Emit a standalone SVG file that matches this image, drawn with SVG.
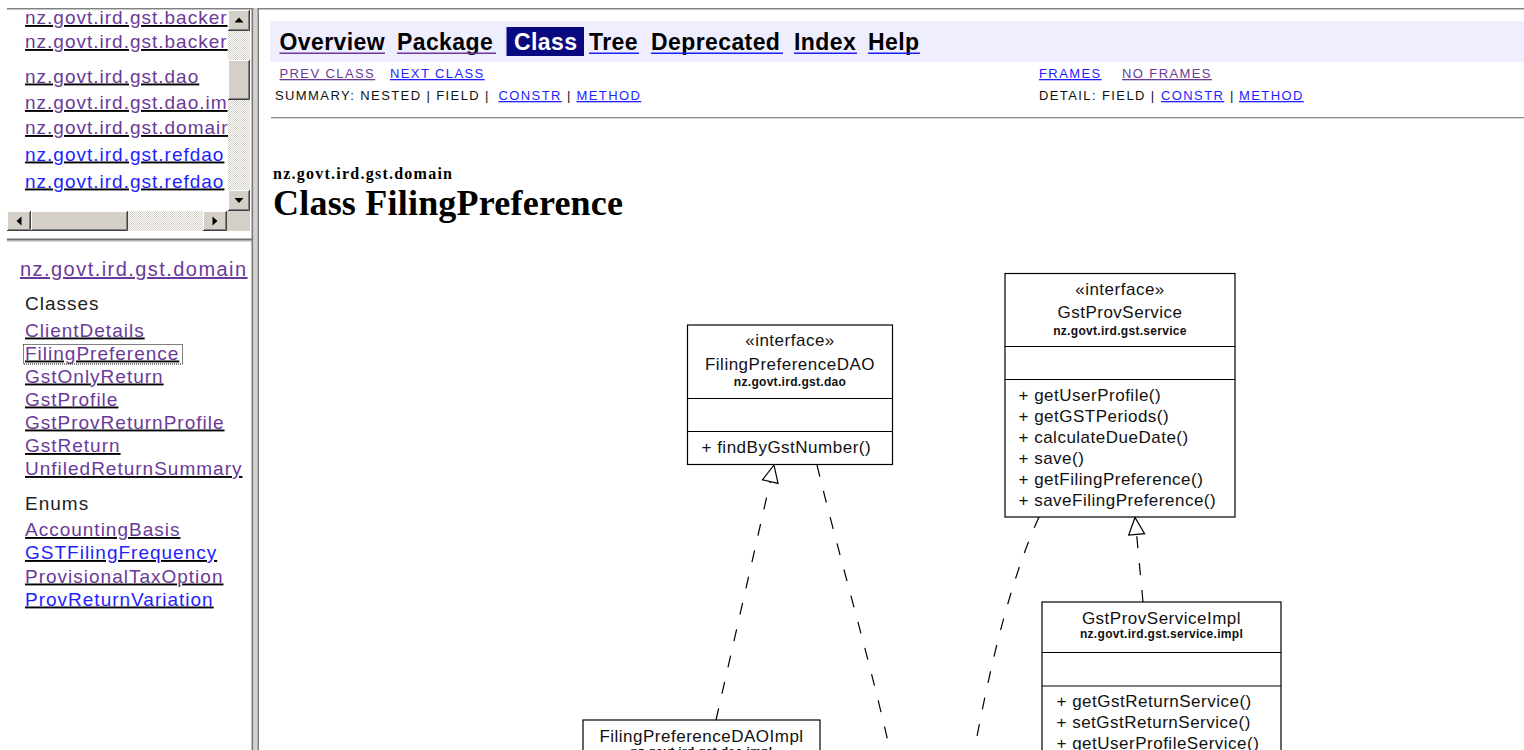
<svg xmlns="http://www.w3.org/2000/svg" width="1524" height="750" viewBox="0 0 1524 750">
<defs>
<style>
.pg{font-family:"Liberation Sans",Arial,Helvetica,sans-serif}
.lk{text-decoration:underline}
.vis{fill:#6b3a99}
.unv{fill:#1e1eff}
.fi{font-size:19px;letter-spacing:1px}
.hd{fill:#222}
.nav{font-size:23px;font-weight:bold;letter-spacing:0.4px;fill:#000}
.sm{font-size:13px;letter-spacing:1.4px}
.blk{fill:#111}
.uml{font-family:"Liberation Sans",Arial,sans-serif;font-size:17px;letter-spacing:0.5px;fill:#111}
.pkg{font-size:12px;font-weight:bold;letter-spacing:0.3px}
.box{fill:#fff;stroke:#000;stroke-width:1.2}
.sep{stroke:#000;stroke-width:1.2}
.dash{fill:none;stroke:#000;stroke-width:1.2;stroke-dasharray:12 15}
.face{fill:#d4d0c8}
.hi{fill:none;stroke:#fff;stroke-width:1}
.lo{fill:none;stroke:#404040;stroke-width:1}
.mid{fill:none;stroke:#808080;stroke-width:1}
.arr{fill:#000}
.serif{font-family:"Liberation Serif","Times New Roman",serif;font-weight:bold;fill:#000}
</style>
<pattern id="dither" width="2" height="2" patternUnits="userSpaceOnUse">
<rect width="2" height="2" fill="#fff"/>
<rect width="1" height="1" fill="#d4d0c8"/>
<rect x="1" y="1" width="1" height="1" fill="#d4d0c8"/>
</pattern>
<clipPath id="pkgClip"><rect x="0" y="10" width="228" height="200"/></clipPath>
<marker id="realize" markerUnits="userSpaceOnUse" markerWidth="19" markerHeight="18" viewBox="-1 -1 19 18" refX="17" refY="8" orient="auto" overflow="visible">
<path d="M0,0 L17,8 L0,16 Z" fill="#fff" stroke="#000" stroke-width="1.2"/>
</marker>
</defs>

<rect width="1524" height="750" fill="#fff"/>

<!-- window top edge -->
<rect x="7" y="8" width="1517" height="1" fill="#808080"/>
<rect x="7" y="9" width="1517" height="1" fill="#c4c4c4"/>

<!-- package list frame -->
<g id="package-list-frame">
  <g clip-path="url(#pkgClip)" class="pg fi lk">
    <text x="25" y="24" class="vis">nz.govt.ird.gst.backer</text>
    <text x="25" y="48" class="vis">nz.govt.ird.gst.backer</text>
    <text x="25" y="82.5" class="vis">nz.govt.ird.gst.dao</text>
    <text x="25" y="109" class="vis">nz.govt.ird.gst.dao.im</text>
    <text x="25" y="134" class="vis">nz.govt.ird.gst.domair</text>
    <text x="25" y="160.5" class="unv">nz.govt.ird.gst.refdao</text>
    <text x="25" y="187.5" class="unv">nz.govt.ird.gst.refdao</text>
  </g>
  <!-- vertical scrollbar -->
  <rect x="228" y="31" width="22" height="159" fill="url(#dither)"/>
  <rect class="face" x="228" y="10" width="22" height="21"/>
  <path class="hi" d="M228.5,30 V10.5 H249"/>
  <path class="lo" d="M228,30.5 H249.5 V10"/>
  <path class="mid" d="M229,29.5 H248.5 V11"/>
  <polygon class="arr" points="239,17.5 234.5,22.5 243.5,22.5"/>
  <rect class="face" x="228" y="60" width="22" height="40"/>
  <path class="hi" d="M228.5,99 V60.5 H249"/>
  <path class="lo" d="M228,99.5 H249.5 V60"/>
  <path class="mid" d="M229,98.5 H248.5 V61"/>
  <rect class="face" x="228" y="190" width="22" height="21"/>
  <path class="hi" d="M228.5,210 V190.5 H249"/>
  <path class="lo" d="M228,210.5 H249.5 V190"/>
  <path class="mid" d="M229,209.5 H248.5 V191"/>
  <polygon class="arr" points="234.5,198 243.5,198 239,203"/>
  <!-- horizontal scrollbar -->
  <rect x="31" y="211" width="172" height="20" fill="url(#dither)"/>
  <rect class="face" x="7" y="211" width="24" height="20"/>
  <path class="hi" d="M7.5,230 V211.5 H30"/>
  <path class="lo" d="M7,230.5 H30.5 V211"/>
  <path class="mid" d="M8,229.5 H29.5 V212"/>
  <polygon class="arr" points="16.5,221 21.5,216.5 21.5,225.5"/>
  <rect class="face" x="31" y="211" width="97" height="20"/>
  <path class="hi" d="M31.5,230 V211.5 H127"/>
  <path class="lo" d="M31,230.5 H127.5 V211"/>
  <path class="mid" d="M32,229.5 H126.5 V212"/>
  <rect class="face" x="203" y="211" width="24" height="20"/>
  <path class="hi" d="M203.5,230 V211.5 H226"/>
  <path class="lo" d="M203,230.5 H226.5 V211"/>
  <path class="mid" d="M204,229.5 H225.5 V212"/>
  <polygon class="arr" points="212.5,216.5 212.5,225.5 217.5,221"/>
  <rect class="face" x="227" y="211" width="23" height="20"/>
  <!-- frame border -->
  <rect x="7" y="238.5" width="245" height="2" fill="#707070"/>
  <rect x="7" y="240.5" width="245" height="1" fill="#b0b0b0"/>
</g>

<!-- class list frame -->
<g id="class-list-frame" class="pg">
  <text x="20" y="276" class="vis lk" style="font-size:20px;letter-spacing:1.45px">nz.govt.ird.gst.domain</text>
  <text x="25" y="309.5" class="fi hd">Classes</text>
  <g class="fi lk">
    <text x="25" y="336.5" class="vis">ClientDetails</text>
    <text x="25" y="359.5" class="vis">FilingPreference</text>
    <text x="25" y="382.5" class="vis">GstOnlyReturn</text>
    <text x="25" y="405.5" class="vis">GstProfile</text>
    <text x="25" y="428.5" class="vis">GstProvReturnProfile</text>
    <text x="25" y="452" class="vis">GstReturn</text>
    <text x="25" y="475" class="vis">UnfiledReturnSummary</text>
  </g>
  <rect x="23.5" y="344.5" width="159" height="19.5" fill="none" stroke="#000" stroke-width="1" stroke-dasharray="1 1"/>
  <text x="25" y="509.5" class="fi hd">Enums</text>
  <g class="fi lk">
    <text x="25" y="536" class="vis">AccountingBasis</text>
    <text x="25" y="559" class="unv">GSTFilingFrequency</text>
    <text x="25" y="582.5" class="vis">ProvisionalTaxOption</text>
    <text x="25" y="605.5" class="unv">ProvReturnVariation</text>
  </g>
</g>

<!-- frame splitter -->
<rect x="251.5" y="8" width="2" height="742" fill="#7a7a7a"/>
<rect x="253.5" y="8" width="4" height="742" fill="#d6d3ce"/>
<rect x="257.5" y="8" width="1.5" height="742" fill="#7a7a7a"/>

<!-- class documentation frame -->
<g id="class-frame" class="pg">
  <rect x="270" y="21" width="1254" height="41" fill="#eeeeff"/>
  <text x="279.5" y="50" class="nav">Overview</text>
  <text x="397" y="50" class="nav">Package</text>
  <rect x="506.5" y="27" width="77.5" height="29" fill="#0a0a80"/>
  <text x="514" y="50" class="nav" style="fill:#fff">Class</text>
  <text x="589" y="50" class="nav">Tree</text>
  <text x="651" y="50" class="nav">Deprecated</text>
  <text x="794" y="50" class="nav">Index</text>
  <text x="868" y="50" class="nav">Help</text>
  <rect x="279.5" y="52.5" width="105.5" height="1.5" fill="#6b3a99"/>
  <rect x="397" y="52.5" width="99" height="1.5" fill="#6b3a99"/>
  <rect x="589" y="52.5" width="50" height="1.5" fill="#1e1eff"/>
  <rect x="651" y="52.5" width="132" height="1.5" fill="#1e1eff"/>
  <rect x="794" y="52.5" width="63" height="1.5" fill="#1e1eff"/>
  <rect x="868" y="52.5" width="52" height="1.5" fill="#1e1eff"/>

  <text x="279.5" y="78" class="sm vis lk">PREV CLASS</text>
  <text x="390" y="78" class="sm unv lk">NEXT CLASS</text>
  <text x="1039" y="78" class="sm unv lk">FRAMES</text>
  <text x="1122" y="78" class="sm vis lk">NO FRAMES</text>

  <text x="275" y="100" class="sm blk">SUMMARY: NESTED | FIELD |</text>
  <text x="498.5" y="100" class="sm unv lk">CONSTR</text>
  <text x="567" y="100" class="sm blk">|</text>
  <text x="576.5" y="100" class="sm unv lk">METHOD</text>
  <text x="1039" y="100" class="sm blk">DETAIL: FIELD |</text>
  <text x="1161" y="100" class="sm unv lk">CONSTR</text>
  <text x="1230" y="100" class="sm blk">|</text>
  <text x="1239" y="100" class="sm unv lk">METHOD</text>

  <rect x="271" y="117" width="1253" height="1" fill="#8a8a8a"/>
  <rect x="271" y="118" width="1253" height="1" fill="#dcdcdc"/>

  <text x="273" y="179" class="serif" style="font-size:16px" textLength="179" lengthAdjust="spacing">nz.govt.ird.gst.domain</text>
  <text x="273" y="215" class="serif" style="font-size:36px" textLength="350" lengthAdjust="spacing">Class FilingPreference</text>
</g>

<!-- UML nodes -->
<g id="node-FilingPreferenceDAO">
  <rect class="box" x="687.5" y="325" width="205" height="139.5"/>
  <line class="sep" x1="687.5" y1="398.5" x2="892.5" y2="398.5"/>
  <line class="sep" x1="687.5" y1="431.5" x2="892.5" y2="431.5"/>
  <text class="uml" x="790" y="346" text-anchor="middle">«interface»</text>
  <text class="uml" x="790" y="369.5" text-anchor="middle">FilingPreferenceDAO</text>
  <text class="uml pkg" x="790" y="386" text-anchor="middle">nz.govt.ird.gst.dao</text>
  <text class="uml" x="701.5" y="452.5">+ findByGstNumber()</text>
</g>

<g id="node-GstProvService">
  <rect class="box" x="1005" y="273.5" width="230" height="243.5"/>
  <line class="sep" x1="1005" y1="346.5" x2="1235" y2="346.5"/>
  <line class="sep" x1="1005" y1="379.5" x2="1235" y2="379.5"/>
  <text class="uml" x="1120" y="294.5" text-anchor="middle">«interface»</text>
  <text class="uml" x="1120" y="318" text-anchor="middle">GstProvService</text>
  <text class="uml pkg" x="1120" y="334.5" text-anchor="middle">nz.govt.ird.gst.service</text>
  <text class="uml" x="1018.5" y="400.5">+ getUserProfile()</text>
  <text class="uml" x="1018.5" y="421.5">+ getGSTPeriods()</text>
  <text class="uml" x="1018.5" y="442.5">+ calculateDueDate()</text>
  <text class="uml" x="1018.5" y="463.5">+ save()</text>
  <text class="uml" x="1018.5" y="484.5">+ getFilingPreference()</text>
  <text class="uml" x="1018.5" y="505.5">+ saveFilingPreference()</text>
</g>

<g id="node-GstProvServiceImpl">
  <rect class="box" x="1042" y="602" width="239" height="170"/>
  <line class="sep" x1="1042" y1="652.5" x2="1281" y2="652.5"/>
  <line class="sep" x1="1042" y1="686" x2="1281" y2="686"/>
  <text class="uml" x="1161.5" y="624" text-anchor="middle">GstProvServiceImpl</text>
  <text class="uml pkg" x="1161.5" y="638" text-anchor="middle">nz.govt.ird.gst.service.impl</text>
  <text class="uml" x="1056.5" y="707">+ getGstReturnService()</text>
  <text class="uml" x="1056.5" y="728">+ setGstReturnService()</text>
  <text class="uml" x="1056.5" y="749">+ getUserProfileService()</text>
</g>

<g id="node-FilingPreferenceDAOImpl">
  <rect class="box" x="583" y="720" width="237" height="60"/>
  <text class="uml" x="701.5" y="742" text-anchor="middle">FilingPreferenceDAOImpl</text>
  <text class="uml pkg" x="701.5" y="756" text-anchor="middle">nz.govt.ird.gst.dao.impl</text>
</g>

<!-- connectors -->
<g id="connectors">
  <path class="dash" d="M716,720 L774,465" marker-end="url(#realize)"/>
  <path class="dash" d="M1143,602 L1135,517.5" marker-end="url(#realize)"/>
  <path class="dash" d="M817,465 C840,560 870,660 891,755"/>
  <path class="dash" d="M1039,517 C1015,570 995,640 974,752"/>
</g>
</svg>
